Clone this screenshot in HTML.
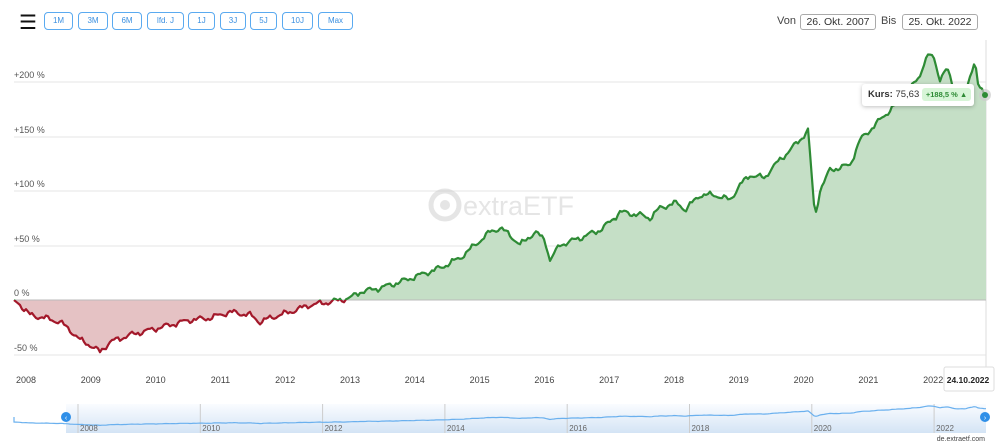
<!DOCTYPE html>
<html><head><meta charset="utf-8"><style>
body{margin:0;width:999px;height:447px;background:#fff;font-family:"Liberation Sans",sans-serif;overflow:hidden;position:relative}
.btn{position:absolute;top:12px;height:18px;border:1.5px solid #5aaaf0;border-radius:4px;font-size:8px;color:#3a8fe0;text-align:center;line-height:16px;box-sizing:border-box}
.date{position:absolute;top:14px;height:16px;border:1px solid #aaa;border-radius:3px;font-size:10.5px;color:#333;text-align:center;line-height:15px;box-sizing:border-box}
.lbl{position:absolute;font-size:11px;color:#444}
</style></head><body>
<div style="position:absolute;left:19px;top:10px;font-size:20px;color:#111">☰</div>
<div class="btn" style="left:44px;width:29px">1M</div>
<div class="btn" style="left:78px;width:30px">3M</div>
<div class="btn" style="left:112px;width:30px">6M</div>
<div class="btn" style="left:147px;width:37px">lfd. J</div>
<div class="btn" style="left:188px;width:27px">1J</div>
<div class="btn" style="left:220px;width:26px">3J</div>
<div class="btn" style="left:250px;width:27px">5J</div>
<div class="btn" style="left:282px;width:31px">10J</div>
<div class="btn" style="left:318px;width:35px">Max</div>
<div class="lbl" style="left:777px;top:15px">Von</div>
<div class="date" style="left:800px;width:76px">26. Okt. 2007</div>
<div class="lbl" style="left:881px;top:15px">Bis</div>
<div class="date" style="left:902px;width:76px">25. Okt. 2022</div>
<svg width="999" height="447" style="position:absolute;left:0;top:0" id="s">
<g stroke="#e6e6e6" stroke-width="1">
<line x1="14" x2="986" y1="82" y2="82"/><line x1="14" x2="986" y1="137" y2="137"/><line x1="14" x2="986" y1="191" y2="191"/><line x1="14" x2="986" y1="246" y2="246"/><line x1="14" x2="986" y1="355" y2="355"/>
</g>
<line x1="986" x2="986" y1="40" y2="390" stroke="#ddd"/>
<g font-size="9" fill="#555" font-family="Liberation Sans">
<text x="14" y="78">+200 %</text><text x="14" y="133">+150 %</text><text x="14" y="187">+100 %</text><text x="14" y="242">+50 %</text><text x="14" y="296">0 %</text><text x="14" y="351">-50 %</text>
</g>
<g opacity="0.5"><circle cx="445" cy="205" r="14" fill="none" stroke="#ccc" stroke-width="5"/><circle cx="445" cy="205" r="5" fill="#ccc"/>
<text x="463" y="215" font-size="27" fill="#ccc" font-family="Liberation Sans">extraETF</text></g>
<defs><clipPath id="up"><rect x="0" y="0" width="999" height="300"/></clipPath><clipPath id="dn"><rect x="0" y="300" width="999" height="100"/></clipPath></defs>
<path id="fa" clip-path="url(#up)" fill="#c5dfc6"/>
<path id="fb" clip-path="url(#dn)" fill="#e5c2c4"/>
<line x1="14" x2="986" y1="300" y2="300" stroke="#bbb"/>
<path id="la" clip-path="url(#up)" fill="none" stroke="#2e8b35" stroke-width="2.2" stroke-linejoin="round"/>
<path id="lb" clip-path="url(#dn)" fill="none" stroke="#a3182a" stroke-width="2.2" stroke-linejoin="round"/>
<circle cx="985" cy="95" r="6" fill="#ccc" opacity=".7"/><circle cx="985" cy="95" r="3" fill="#2e8b35"/>
<g font-size="9" fill="#444" font-family="Liberation Sans" text-anchor="middle" id="yrs"></g>
<rect x="944" y="367" width="50" height="24" fill="#fff" stroke="#ddd" rx="2"/>
<text x="968" y="383" font-size="8.5" font-weight="bold" text-anchor="middle" fill="#222">24.10.2022</text>
<defs><linearGradient id="g" x1="0" y1="0" x2="0" y2="1"><stop offset="0" stop-color="#fafcff"/><stop offset="1" stop-color="#d4e4f5"/></linearGradient></defs>
<rect x="66" y="404" width="920" height="29" fill="url(#g)"/>
<g stroke="#ccc" id="nvl"></g>
<path id="nav" fill="none" stroke="#6ab0ee" stroke-width="1.2"/>
<circle cx="66" cy="417" r="5" fill="#2f8fe8"/><text x="66" y="420" font-size="7" fill="#fff" text-anchor="middle">‹</text>
<circle cx="985" cy="417" r="5" fill="#2f8fe8"/><text x="985" y="420" font-size="7" fill="#fff" text-anchor="middle">›</text>
<g font-size="8" fill="#666" font-family="Liberation Sans" id="nyr"></g>
<text x="985" y="441" font-size="7" fill="#444" text-anchor="end">de.extraetf.com</text>
</svg>
<div style="position:absolute;left:862px;top:84px;width:112px;height:22px;background:#fff;border-radius:3px;box-shadow:0 1px 4px rgba(0,0,0,.25);font-size:9.5px;line-height:22px;color:#333;padding-left:6px;box-sizing:border-box;white-space:nowrap"><b>Kurs:</b> 75,63 <span style="background:#d7f5d7;color:#2e8b35;font-size:7.5px;font-weight:bold;padding:2px 4px;border-radius:3px">+188,5 % ▲</span></div>
<script>
var P=[[14,300],[20,305],[30,315],[45,318],[60,322],[70,330],[80,340],[90,345],[100,352],[110,342],[130,335],[150,330],[170,325],[190,320],[210,318],[230,312],[250,315],[260,322],[270,318],[290,312],[310,305],[330,302],[350,298],[360,292],[380,288],[400,282],[420,275],[440,268],[460,258],[475,245],[490,232],[500,228],[510,235],[520,245],[535,232],[545,240],[550,260],[560,245],[580,238],[600,230],[610,222],[620,212],[640,215],[650,218],[660,208],[675,203],[680,205],[685,210],[700,195],[715,195],[730,200],[740,185],[750,175],[765,178],[770,170],[780,160],[790,150],[800,140],[808,130],[812,180],[815,218],[820,190],[830,170],[850,165],[860,140],[870,130],[880,120],[890,110],[900,100],[910,90],[920,75],[925,60],[930,55],[935,60],[940,80],[945,70],[950,75],[955,95],[965,100],[970,75],[975,60],[978,85],[983,93],[986,95]];
var pts=[],j=0;
for(var x=14;x<=986;x+=2){while(j<P.length-2&&P[j+1][0]<x)j++;var a=P[j],b=P[j+1];var t=Math.min(1,Math.max(0,(x-a[0])/(b[0]-a[0])));var y=a[1]+(b[1]-a[1])*t;var n=(x>20&&x<984)?(Math.sin(x*0.9)*1.0+Math.sin(x*0.37)*2.0+Math.sin(x*1.9)*0.6):0;pts.push([x,y+n]);}
var d="M"+pts.map(p=>p[0].toFixed(1)+","+p[1].toFixed(1)).join("L");
var f=d+"L986,300L14,300Z";
["la","lb"].forEach(i=>document.getElementById(i).setAttribute("d",d));
["fa","fb"].forEach(i=>document.getElementById(i).setAttribute("d",f));
var nd="M14,"+(417-(300-pts[0][1])*0.07).toFixed(1);
pts.forEach(p=>nd+="L"+p[0].toFixed(1)+","+(422-(300-p[1])*0.065).toFixed(1));
document.getElementById("nav").setAttribute("d",nd);
var yg=document.getElementById("yrs"),s="";
for(var k=0;k<15;k++){s+='<text x="'+(26+k*64.8).toFixed(1)+'" y="383">'+(2008+k)+'</text>';}
yg.innerHTML=s;
var ng=document.getElementById("nvl"),ny=document.getElementById("nyr"),s1="",s2="";
for(var k=0;k<8;k++){var xx=78+k*122.3;s1+='<line x1="'+xx+'" x2="'+xx+'" y1="404" y2="433"/>';s2+='<text x="'+(xx+2)+'" y="431">'+(2008+2*k)+'</text>';}
ng.innerHTML=s1;ny.innerHTML=s2;
</script>
</body></html>
